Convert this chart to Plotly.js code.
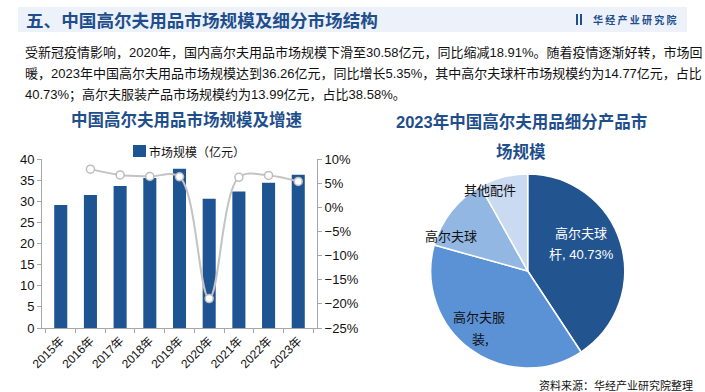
<!DOCTYPE html>
<html>
<head>
<meta charset="utf-8">
<script src="https://cdn.plot.ly/plotly-3.0.1.min.js"></script>
<style>
html,body{margin:0;padding:0;background:#fff;}
#chart{width:705px;height:392px;}
</style>
</head>
<body>
<div id="chart"></div>
<script>
// ---- data ----
const years = ["2015年","2016年","2017年","2018年","2019年","2020年","2021年","2022年","2023年"];
const marketSize = [29.1, 31.5, 33.6, 35.5, 37.7, 30.58, 32.3, 34.4, 36.26];
const growthRate = [null, 7.9, 6.7, 6.4, 6.3, -18.91, 6.2, 6.6, 5.35];
const barName = "市场规模（亿元）";
const lineName = "增速";
const segLabels = ["高尔夫球杆", "高尔夫服装", "高尔夫球", "其他配件"];
const segShares = [40.73, 38.58, 12.6, 8.09];
const segTexts = [["高尔夫球", "杆, 40.73%"], ["高尔夫服", "装,"], ["高尔夫球"], ["其他配件"]];
const headerTitle = "五、中国高尔夫用品市场规模及细分市场结构";
const brand = "华 经 产 业 研 究 院";
const paragraph = [
  "受新冠疫情影响，2020年，国内高尔夫用品市场规模下滑至30.58亿元，同比缩减18.91%。随着疫情逐渐好转，市场回",
  "暖，2023年中国高尔夫用品市场规模达到36.26亿元，同比增长5.35%，其中高尔夫球杆市场规模约为14.77亿元，占比",
  "40.73%；高尔夫服装产品市场规模约为13.99亿元，占比38.58%。"
];
const leftTitle = "中国高尔夫用品市场规模及增速";
const rightTitle = ["2023年中国高尔夫用品细分产品市", "场规模"];
const sourceNote = "资料来源：华经产业研究院整理";

// ---- helpers ----
const W = 705, H = 392;
const px = x => x / W;
const py = y => 1 - y / H;
const FONT = "Liberation Sans, Arial, Noto Sans CJK SC, sans-serif";
const CJK = "Noto Sans CJK SC, sans-serif";
const BLUE = "#1F4E8C";
const BAR = "#1F5493";

const traces = [
  {
    type: "bar", x: years, y: marketSize, name: barName,
    marker: {color: BAR}, xaxis: "x", yaxis: "y",
    hoverinfo: "skip", showlegend: false
  },
  {
    type: "scatter", mode: "lines+markers", x: years, y: growthRate, name: lineName,
    line: {color: "#C3C3C3", width: 2, shape: "spline", smoothing: 1},
    marker: {color: "#FFFFFF", size: 8, line: {color: "#BDBDBD", width: 1.5}},
    xaxis: "x", yaxis: "y2", showlegend: false, connectgaps: false, hoverinfo: "skip"
  },
  {
    type: "pie", labels: segLabels, values: segShares, sort: false,
    direction: "clockwise", rotation: 0,
    marker: {colors: ["#22548F", "#5B92D6", "#93B7E3", "#C9DAF1"], line: {color: "#FFFFFF", width: 1.5}},
    textinfo: "none", showlegend: false, hoverinfo: "skip",
    domain: {x: [px(430.7), px(624.7)], y: [py(368), py(174)]}
  }
];

const annotations = [];
function txt(text, x, y, size, color, opts) {
  annotations.push(Object.assign({
    text: text, xref: "paper", yref: "paper", x: px(x), y: py(y),
    xanchor: "left", yanchor: "middle", showarrow: false,
    font: {family: CJK, size: size, color: color}
  }, opts || {}));
}
// header
txt("<b>" + headerTitle + "</b>", 24, 19.5, 17.6, BLUE);
txt("<b>" + brand + "</b>", 591, 19.5, 10, BLUE);
// paragraph
paragraph.forEach((line, i) => txt(line, 23, 52 + i * 21.5, 13, "#111111", {font: {family: FONT, size: 13, color: "#111111"}}));
// chart titles
txt("<b>" + leftTitle + "</b>", 187, 119, 16.5, BLUE, {xanchor: "center"});
txt("<b>" + rightTitle[0] + "</b>", 521, 121, 16.5, BLUE, {xanchor: "center", font: {family: FONT, size: 16.5, color: BLUE}});
txt("<b>" + rightTitle[1] + "</b>", 521, 151, 16.5, BLUE, {xanchor: "center"});
// legend (bar series)
txt(barName, 147, 151, 12, "#111111");
// pie labels
txt(segTexts[0][0], 581, 232, 13, "#FFFFFF", {xanchor: "center"});
txt(segTexts[0][1], 581, 254, 13, "#FFFFFF", {xanchor: "center", font: {family: FONT, size: 13, color: "#FFFFFF"}});
txt(segTexts[1][0], 479, 316, 13, "#111111", {xanchor: "center"});
txt(segTexts[1][1], 470, 338, 13, "#111111");
txt(segTexts[2][0], 451, 235, 13, "#111111", {xanchor: "center"});
txt(segTexts[3][0], 490, 189, 13, "#111111", {xanchor: "center"});
// source
txt(sourceNote, 537, 385, 11, "#111111");

const shapes = [
  {type: "rect", xref: "paper", yref: "paper", x0: px(18), x1: px(687), y0: py(32), y1: py(7),
   fillcolor: "#EDF2FA", line: {width: 0}, layer: "below"},
  {type: "rect", xref: "paper", yref: "paper", x0: px(576), x1: px(578), y0: py(25), y1: py(14),
   fillcolor: BLUE, line: {width: 0}},
  {type: "rect", xref: "paper", yref: "paper", x0: px(580), x1: px(582), y0: py(25), y1: py(14),
   fillcolor: BLUE, line: {width: 0}},
  {type: "rect", xref: "paper", yref: "paper", x0: px(133), x1: px(146), y0: py(157), y1: py(145),
   fillcolor: BAR, line: {width: 0}}
];

const axisCommon = {
  showgrid: false, zeroline: false, showline: true, linecolor: "#A6A6A6", linewidth: 1,
  ticks: "outside", ticklen: 4, tickcolor: "#A6A6A6",
  tickfont: {family: FONT, size: 13, color: "#111111"}
};

const layout = {
  width: W, height: H,
  margin: {l: 0, r: 0, t: 0, b: 0},
  paper_bgcolor: "#FFFFFF", plot_bgcolor: "rgba(0,0,0,0)",
  bargap: 0.56,
  showlegend: false,
  xaxis: Object.assign({}, axisCommon, {
    domain: [px(42), px(317)], anchor: "y", type: "category",
    tickson: "boundaries", tickangle: -45,
    tickfont: {family: FONT, size: 12, color: "#111111"}
  }),
  yaxis: Object.assign({}, axisCommon, {
    domain: [py(328), py(159)], anchor: "x", range: [0, 40], dtick: 5
  }),
  yaxis2: Object.assign({}, axisCommon, {
    overlaying: "y", side: "right", anchor: "x", range: [-25, 10], dtick: 5, ticksuffix: "%"
  }),
  annotations: annotations,
  shapes: shapes
};

Plotly.newPlot("chart", traces, layout, {displayModeBar: false, staticPlot: true});
</script>
</body>
</html>
